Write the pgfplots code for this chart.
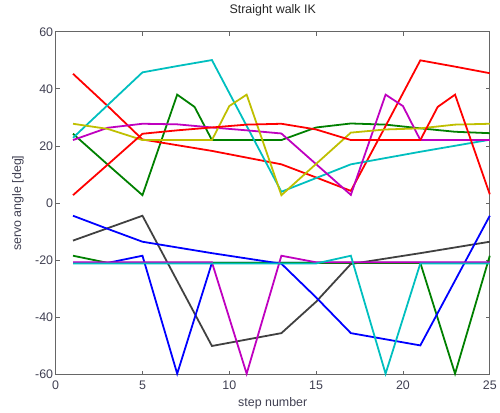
\documentclass[border=0pt]{standalone}
\usepackage{fontspec}
\setmainfont{Liberation Sans}
\usepackage{pgfplots}
\pgfplotsset{compat=1.18}
\definecolor{mb}{rgb}{0,0,1}
\definecolor{mg}{rgb}{0,0.5,0}
\definecolor{mr}{rgb}{1,0,0}
\definecolor{mc}{rgb}{0,0.75,0.75}
\definecolor{mm}{rgb}{0.75,0,0.75}
\definecolor{my}{rgb}{0.75,0.75,0}
\definecolor{mk}{rgb}{0.25,0.25,0.25}
\definecolor{tk}{rgb}{0.25,0.25,0.32}
\begin{document}
\begin{tikzpicture}[x=1pt,y=1pt]
\begin{axis}[name=ax,
  scale only axis, width=437pt, height=345pt,
  xmin=0, xmax=25, ymin=-60, ymax=60,
  xtick={0,5,...,25}, ytick={-60,-40,...,60},
  tick align=inside, tick pos=both,
  major tick length=4pt,
  axis line style={draw=black!60, line width=1pt},
  every tick/.style={black!60, line width=0.9pt},
  /pgf/number format/assume math mode=true,
  ticklabel style={font=\fontsize{12.5}{14}\selectfont, text=tk},
  xticklabel style={anchor=center, yshift=-11pt},
  yticklabel style={xshift=1pt},
  title style={font=\fontsize{12.5}{14}\selectfont, text=black!85,
     at={(axis description cs:0.5,1.046)}, anchor=center},
  title={Straight walk IK},
  xlabel={step number},
  ylabel={servo angle [deg]},
  xlabel style={font=\fontsize{12.5}{14}\selectfont, text=tk,
     at={(axis description cs:0.5,-0.084)}, anchor=center},
  ylabel style={font=\fontsize{12.5}{14}\selectfont, text=tk,
     at={(axis description cs:-0.087,0.5)}, anchor=center},
  every axis plot/.style={line width=1.8pt, mark=none},
  clip=false,
]
% upper group
\addplot[color=mg] coordinates {(1,24.3)(3,13.5)(5,2.8)(7,38)(8,33.7)(9,22.1)(13,22.1)(15,26.5)(17,27.9)(19,27.5)(21,26.2)(23,25)(25,24.5)};
\addplot[color=mr] coordinates {(1,45.3)(3,34)(5,22.3)(9,18.3)(13,13.6)(15,9)(17,4.3)(19,27)(21,50)(23,47.8)(25,45.5)};
\addplot[color=mc] coordinates {(1,22.9)(5,45.8)(7,48)(9,50.1)(13,4)(15,8.8)(17,13.6)(21,18)(25,22.2)};
\addplot[color=mm] coordinates {(1,22.1)(3,26.4)(5,27.8)(7,27.6)(9,26.5)(11,25.5)(13,24.4)(17,2.9)(19,38)(20,34)(21,22.1)(25,22.1)};
\addplot[color=my] coordinates {(1,27.8)(3,26)(5,22.1)(9,22.1)(10,34)(11,38)(13,2.8)(17,24.7)(19,25.8)(21,26.2)(23,27.5)(25,27.8)};
% lower group
\addplot[color=mk] coordinates {(1,-13.1)(5,-4.4)(9,-50)(13,-45.5)(15,-34.5)(17,-21.3)(21,-17.5)(25,-13.5)};
\addplot[color=mb] coordinates {(1,-20.9)(3,-20.9)(5,-18.4)(7,-59.7)(9,-20.9)(25,-20.9)};
\addplot[color=mg] coordinates {(1,-18.4)(3,-20.9)(21,-20.9)(23,-59.7)(25,-18.4)};
\addplot[color=mr] coordinates {(1,2.8)(3,13.5)(5,24.3)(7,25.5)(9,26.5)(11,27.5)(13,27.8)(15,25.8)(17,22.1)(21,22.1)(22,33.7)(23,38)(25,3.1)};
\addplot[color=mb] coordinates {(1,-4.4)(3,-9)(5,-13.5)(9,-17.5)(13,-21.2)(15,-33)(17,-45.5)(21,-49.8)(25,-4.4)};
\addplot[color=mm] coordinates {(1,-20.7)(9,-20.7)(11,-59.7)(13,-18.4)(15,-20.7)(25,-20.7)};
\addplot[color=mc] coordinates {(1,-21.1)(15,-21.1)(17,-18.4)(19,-59.7)(21,-21.1)(25,-21.1)};
\end{axis}
\path (ax.south west) ++(-56pt,-34pt) coordinate (bl);
\path (ax.north east) ++(7pt,32pt) coordinate (tr);
\useasboundingbox (bl) rectangle (tr);
\end{tikzpicture}
\end{document}
